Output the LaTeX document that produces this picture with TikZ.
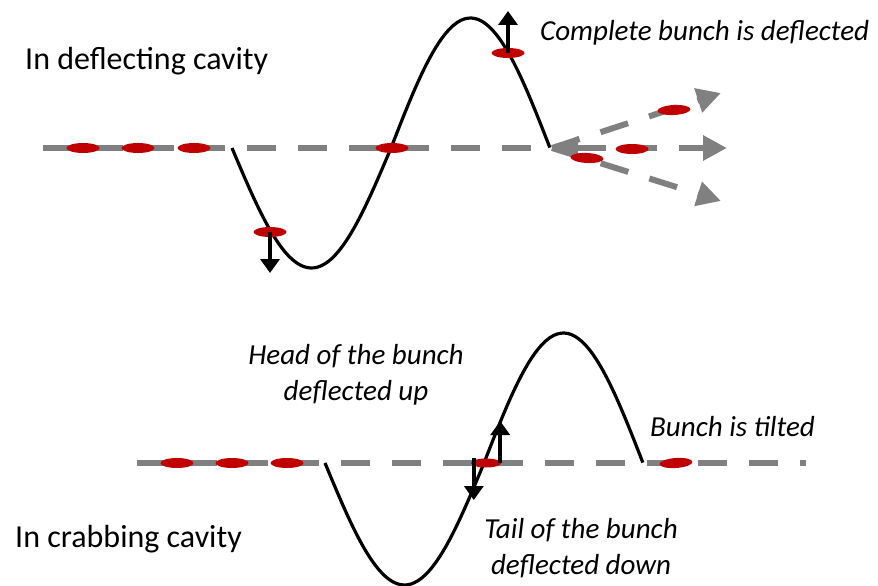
\documentclass[tikz,border=0pt]{standalone}
\usepackage{fontspec}
\setmainfont{Carlito}
\usetikzlibrary{arrows.meta,shapes.geometric}
\definecolor{bmred}{RGB}{192,0,0}
\definecolor{bmgray}{RGB}{128,128,128}
\tikzset{
  bunch/.style={ellipse, fill=bmred, inner sep=0pt, minimum width=33pt, minimum height=10pt},
  beamline/.style={draw=bmgray, line width=6pt, dash pattern=on 29pt off 22pt},
  wave/.style={draw=black, line width=3.2pt},
  kick/.style={-{Triangle[length=14pt,width=19pt]}, draw=black, line width=3.5pt},
  fan/.style={beamline, -{Triangle[length=24pt,width=24pt]}},
  lbl/.style={font=\fontsize{32}{36}\selectfont, anchor=west, inner sep=0pt},
  ilbl/.style={font=\fontsize{29}{36}\selectfont\itshape, inner sep=0pt, align=center}
}
\begin{document}
\begin{tikzpicture}[x=1pt,y=-1pt]
  \useasboundingbox (0,0) rectangle (878,586);
  % deflecting cavity
  \coordinate (dstart) at (43,148);
  \coordinate (split) at (552,148);
  \draw[beamline] (dstart) -- (split);
  \draw[wave] plot[domain=0:1, samples=90]
    ({232+318*\x},{148+(\x<0.5 ? 120 : 130)*sin(360*\x)});
  \coordinate (tipup) at (721,93);
  \coordinate (tipmid) at (727,148);
  \coordinate (tipdown) at (721,201);
  \draw[fan] (split) -- (tipup);
  \draw[fan] (split) -- (tipdown);
  \draw[beamline, {Triangle[length=26pt,width=22pt]}-{Triangle[length=24pt,width=24pt]}] (split) -- (tipmid);
  \foreach \name/\xx in {d1/83, d2/138, d3/194, d4/392} {
    \node[bunch] (\name) at (\xx,148) {};
  }
  \node[bunch] (dlow) at (270,232) {};
  \node[bunch] (dhigh) at (508,53) {};
  \node[bunch, rotate=3] (fup) at (674,110) {};
  \node[bunch] (fmid) at (632,149) {};
  \node[bunch, rotate=-3] (fdown) at (587,158) {};
  \draw[kick] (dlow.center) -- ++(0,41);
  \draw[kick] (dhigh.center) -- ++(0,-42);
  \node[lbl] (tdefl) at (25,61) {In deflecting cavity};
  \node[ilbl, anchor=west] (tcompl) at (540,33) {Complete bunch is deflected};
  % crabbing cavity
  \coordinate (cstart) at (137,463);
  \coordinate (cend) at (806,463);
  \draw[beamline] (cstart) -- (cend);
  \draw[wave] plot[domain=0:1, samples=90]
    ({325+318*\x},{463+(\x<0.5 ? 122 : 130)*sin(360*\x)});
  \foreach \name/\xx in {c1/177, c2/232, c3/287} {
    \node[bunch] (\name) at (\xx,463) {};
  }
  \node[bunch, minimum width=30pt, minimum height=9pt] (ctilt) at (486,463) {};
  \node[bunch, rotate=4] (cout) at (676,463) {};
  \draw[kick] (ctilt.east) ++(-1,0) -- ++(0,-42);
  \draw[kick] (ctilt.west) ++(3,-5) -- ++(0,42);
  \node[ilbl] (thead) at (356,375) {Head of the bunch\\deflected up};
  \node[ilbl] (ttail) at (581,548) {Tail of the bunch\\deflected down};
  \node[ilbl, anchor=west] (ttilt) at (650,427) {Bunch is tilted};
  \node[lbl] (tcrab) at (15,539) {In crabbing cavity};
\end{tikzpicture}
\end{document}
